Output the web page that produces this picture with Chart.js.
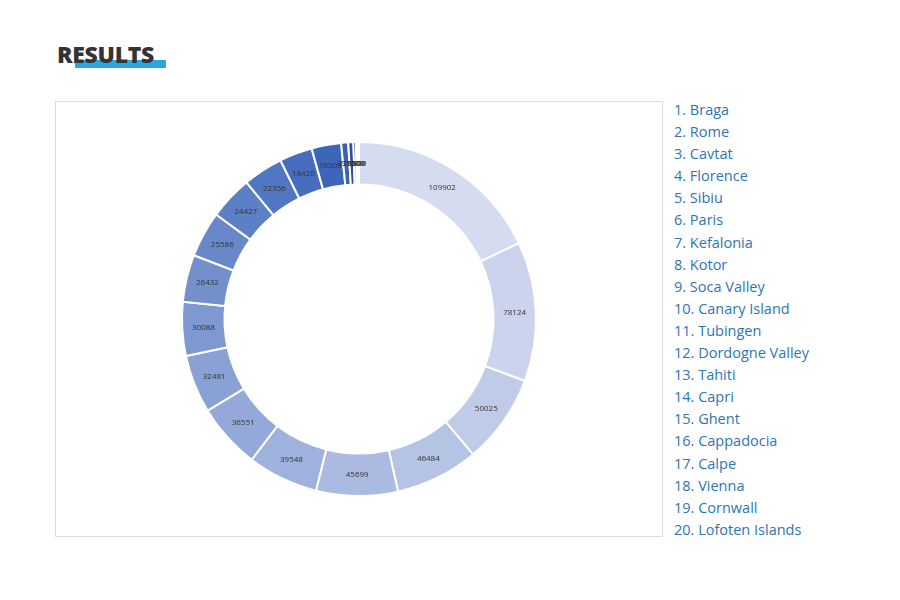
<!DOCTYPE html>
<html><head><meta charset="utf-8">
<script src="https://cdn.jsdelivr.net/npm/chart.js@4"></script>
<style>
body{margin:0;background:#fff;font-family:"Open Sans",sans-serif;}
#title{position:absolute;left:57px;top:38px;font-weight:800;font-size:23px;color:#333;letter-spacing:-0.3px;}
#bar{position:absolute;left:75px;top:60px;width:91px;height:8px;background:#29a8e0;}
#box{position:absolute;left:55px;top:101px;width:606px;height:434px;border:1px solid #ddd;}
#legend{position:absolute;left:674px;top:99px;margin:0;padding:0;list-style:none;font-size:14.5px;line-height:22.1px;color:#2e75b6;}
</style></head><body>
<div id="bar"></div><div id="title">RESULTS</div>
<div id="box"><canvas id="c"></canvas></div>
<ul id="legend"></ul>
<script>
const places = ['Braga','Rome','Cavtat','Florence','Sibiu','Paris','Kefalonia','Kotor','Soca Valley','Canary Island',
  'Tubingen','Dordogne Valley','Tahiti','Capri','Ghent','Cappadocia','Calpe','Vienna','Cornwall','Lofoten Islands'];
const votes = [109902,78124,50025,46484,45699,39548,36551,32481,30088,26432,25586,24427,22356,18420,16505,3950,2850,1500,1000,600];

document.getElementById('legend').innerHTML = places.map((p, i) => `<li>${i + 1}. ${p}</li>`).join('');

// light lavender -> mid blue, last few dark
function sliceColor(i) {
  const t = i / 14;
  if (i > 14) return ['#3a62b0', '#2f4f95', '#27457f', '#203a6c', '#1b2f58'][i - 15];
  const r = Math.round(214 + (60 - 214) * t);
  const g = Math.round(220 + (102 - 220) * t);
  const b = Math.round(240 + (186 - 240) * t);
  return `rgb(${r},${g},${b})`;
}

const sliceLabels = {
  id: 'sliceLabels',
  afterDatasetsDraw(chart) {
    const ctx = chart.ctx;
    ctx.save();
    ctx.font = '8px "Open Sans"';
    ctx.fillStyle = '#333';
    ctx.textAlign = 'center';
    ctx.textBaseline = 'middle';
    chart.getDatasetMeta(0).data.forEach((arc, i) => {
      const p = arc.tooltipPosition();
      ctx.fillText(votes[i], p.x, p.y);
    });
    ctx.restore();
  }
};

new Chart(document.getElementById('c'), {
  type: 'doughnut',
  data: {
    labels: places,
    datasets: [{ data: votes, backgroundColor: places.map((_, i) => sliceColor(i)), borderColor: '#fff', borderWidth: 2 }]
  },
  options: {
    responsive: true,
    maintainAspectRatio: false,
    animation: false,
    cutout: '76%',
    layout: { padding: { top: 39, bottom: 39 } },
    plugins: { legend: { display: false }, tooltip: { enabled: false } }
  },
  plugins: [sliceLabels]
});
</script>
</body></html>
